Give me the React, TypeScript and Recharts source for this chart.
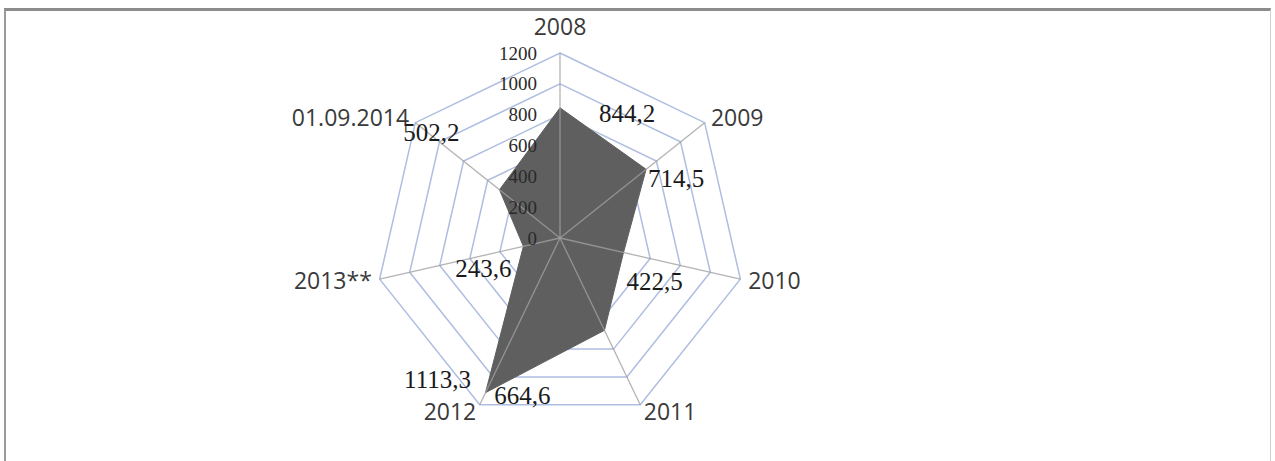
import { RadarChart, Radar, PolarGrid, PolarAngleAxis, PolarRadiusAxis } from "recharts";

const YEARS = ["2008", "2009", "2010", "2011", "2012", "2013**", "01.09.2014"];
const VALUES = [844.2, 714.5, 422.5, 664.6, 1113.3, 243.6, 502.2];
const RADIUS_TICKS = [0, 200, 400, 600, 800, 1000, 1200];

const OUTER_R = 185;
const RAD = Math.PI / 180;
const FILL = "#5f5f5f";

// where Excel put each data label, relative to its point
const LABEL_OFFSETS = [
  [67, 5],
  [30, 9],
  [31, 29],
  [-82, 65],
  [-48, -13],
  [-40, 22],
  [-68, -57],
];

const data = YEARS.map((year, i) => ({ year, value: VALUES[i] }));

const SANS = "'Open Sans', 'Noto Sans', sans-serif";
const SERIF = "'Liberation Serif', 'Times New Roman', serif";

function AngleTick(props: any) {
  const { x, y, payload, textAnchor } = props;
  const top = payload.index === 0;
  return (
    <text
      x={x}
      y={top ? y - 10 : y}
      dy={top ? 0 : "0.35em"}
      textAnchor={textAnchor}
      fontFamily={SANS}
      fontSize={23}
      fill="#3a3a3a"
    >
      {payload.value}
    </text>
  );
}

function RadiusTick(props: any) {
  const { x, y, payload } = props;
  return (
    <text
      x={x - 23}
      y={y}
      dy="0.35em"
      textAnchor="end"
      fontFamily={SERIF}
      fontSize={19}
      fill="#2a2a2a"
    >
      {payload.value}
    </text>
  );
}

function ValueLabel(props: any) {
  const { cx, cy, index, payload } = props;
  const [dx, dy] = LABEL_OFFSETS[index] ?? [0, 0];
  return (
    <text
      key={`lbl-${index}`}
      x={cx + dx}
      y={cy + dy}
      dy="0.35em"
      textAnchor="middle"
      fontFamily={SERIF}
      fontSize={25}
      fill="#1a1a1a"
    >
      {String(payload.value).replace(".", ",")}
    </text>
  );
}

// filled area, then the spokes drawn over it like in Excel
function AreaWithSpokes(props: any) {
  const { points = [] } = props;
  const poly = points.map((p: any) => `${p.x},${p.y}`).join(" ");
  return (
    <g>
      <polygon points={poly} fill={FILL} stroke={FILL} strokeWidth={1} />
      {points.map((p: any, i: number) => (
        <line
          key={i}
          x1={p.cx}
          y1={p.cy}
          x2={p.cx + OUTER_R * Math.cos(-p.angle * RAD)}
          y2={p.cy + OUTER_R * Math.sin(-p.angle * RAD)}
          stroke="#a0a0a0"
          strokeOpacity={0.8}
          strokeWidth={1.3}
        />
      ))}
    </g>
  );
}

export default function App() {
  return (
    <div style={{ position: "absolute", left: 0, top: 0, width: 1275, height: 461, background: "#fff", overflow: "hidden" }}>
      <div
        style={{
          position: "absolute",
          left: 4,
          top: 8,
          width: 1264,
          height: 480,
          borderTop: "3px solid #8c8c8c",
          borderLeft: "2px solid #9a9a9a",
          borderRight: "1px solid #d0d0d0",
        }}
      />
      <RadarChart width={1275} height={461} data={data} cx={560} cy={238} outerRadius={OUTER_R} margin={{ top: 0, right: 0, bottom: 0, left: 0 }}>
        <PolarGrid gridType="polygon" radialLines={false} stroke="#aebde0" strokeWidth={1.5} />
        <PolarAngleAxis dataKey="year" tick={<AngleTick />} tickLine={false} axisLine={false} />
        <Radar
          dataKey="value"
          fill={FILL}
          fillOpacity={1}
          shape={AreaWithSpokes}
          dot={ValueLabel}
          isAnimationActive={false}
        />
        <PolarRadiusAxis
          angle={90}
          domain={[0, 1200]}
          ticks={RADIUS_TICKS as any}
          tickCount={7}
          axisLine={false}
          tickLine={false}
          tick={<RadiusTick />}
        />
      </RadarChart>
    </div>
  );
}
